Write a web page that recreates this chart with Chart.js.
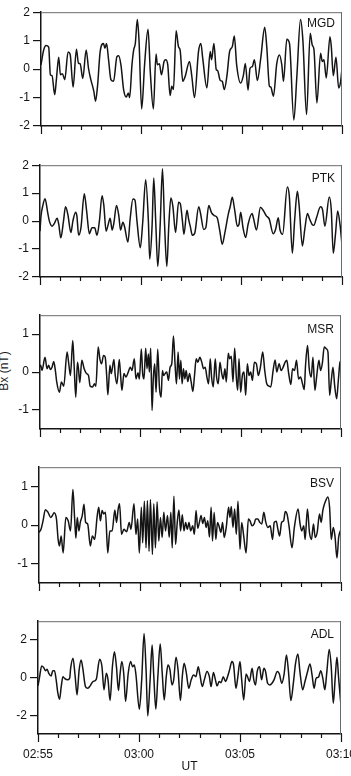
<!DOCTYPE html>
<html>
<head>
<meta charset="utf-8">
<script src="https://cdn.jsdelivr.net/npm/chart.js@4.4.1/dist/chart.umd.min.js"></script>
<style>
  html, body { margin: 0; padding: 0; background: #fff; }
  body { width: 351px; height: 776px; position: relative; overflow: hidden; }
  #ylab {
    position: absolute; left: 4px; top: 371px;
    transform: translate(-50%, -50%) rotate(-90deg);
    font: 12px "Liberation Sans", Arial, sans-serif; color: #1a1a1a; white-space: nowrap;
  }
</style>
</head>
<body>
<div id="ylab">Bx (nT)</div>
<script>
// time in seconds after 02:55 UT, Bx in nT
const mgdT = [0,8,15,23,28,33,41,46,53,58,64,71,81,87,96,106,112,117,125,135,142,149,158,163,169,177,187,191,196,202,209,217,227,232,239,247,255,261,265,272,277,282,288,293,301,310,320,327,336,344,348,354,360,368,373,379,386,391,396,404,411,416,424,431,444,451,459,471,478,484,496,506,510,517,524,528,536,542,548,556,564,572,578,585,597,605,611,619,625,632,638,647,657,669,675,683,687,695,705,713,720,725,735,743,756,765,776,783,794,805,811,816,825,836,841,846,853,864,868,874,882,890,896,900];
const mgdB = [0.15,0.67,0.83,0.77,-0.2,-0.23,-0.9,-0.37,0.42,-0.2,-0.16,-0.37,0.6,0.53,-0.63,0.7,0.2,0.19,-0.33,0.67,0.03,-0.37,-0.78,-1.13,-0.6,0.62,0.9,0.73,0.9,0.33,-0.37,-0.43,0.44,0.47,0.15,-0.72,-0.98,-0.84,-1.0,0.15,0.67,0.9,1.74,1.02,-1.4,0.2,1.4,-0.14,-1.4,0.53,0.15,0.19,-0.2,0.27,0.33,0.15,-0.93,-0.6,-0.72,1.35,0.79,0.67,-0.43,-0.26,0.27,-0.26,-1.0,0.62,0.9,0.33,-0.66,0.62,0.33,0.9,-0.02,-0.05,-0.4,-0.43,-0.72,-0.23,0.62,0.79,1.16,0.15,-0.49,-0.23,0.2,-0.74,0.03,0.09,0.33,-0.4,0.38,1.47,0.79,-0.6,-0.63,-0.95,0.2,0.5,0.15,-0.43,1.05,0.9,-1.79,-0.26,1.74,1.02,-1.6,1.26,0.85,0.7,-1.19,0.56,0.27,0.33,-0.31,1.14,0.79,-0.23,0.42,-0.66,-0.43,0.03];

const ptkT = [0,3,8,15,23,28,36,43,51,56,62,70,76,83,92,98,106,110,115,122,132,139,147,155,163,170,177,185,190,197,202,209,215,220,228,235,240,247,252,262,269,277,283,289,299,306,315,323,327,334,339,345,351,358,365,371,378,384,390,396,404,413,418,424,429,438,443,448,454,461,473,478,488,494,503,511,519,528,536,543,551,561,567,573,580,588,593,598,605,613,620,632,637,645,657,665,675,683,695,702,710,715,723,737,743,752,759,767,772,782,789,797,804,811,816,824,836,842,849,862,868,874,881,887,894,900];
const ptkB = [-0.36,0.18,0.53,0.8,0.3,0,-0.18,-0.08,0.1,-0.12,-0.6,0,0.51,0.24,-0.41,0,0.32,0.18,-0.5,-0.24,0.98,0.36,-0.45,-0.24,-0.24,-0.51,0,0.91,0.59,-0.36,-0.18,0.1,-0.32,-0.08,0.56,0.18,-0.32,-0.04,-0.2,-0.75,0.12,0.79,0.75,0,-0.95,-0.06,1.48,0,-1.36,-0.18,1.54,-0.06,-1.62,-0.18,1.87,-0.06,-1.62,-0.12,0.83,0.53,-0.41,0.67,0.63,0.06,-0.47,0.39,0.06,-0.2,-0.51,-0.44,0.51,0.3,-0.3,-0.24,0.56,0.3,0.2,0.12,-0.36,-0.83,-0.41,0.24,0.53,0.85,0.41,-0.18,-0.12,0.32,-0.24,-0.59,-0.12,0.27,0.06,-0.32,0.5,0.39,0.18,0.08,-0.45,-0.3,0.12,-0.3,-0.47,1.22,0.89,-1.15,0.06,1.07,0.59,-0.89,-0.3,0.27,0.06,-0.12,-0.15,0.12,0.51,0.41,-0.18,0.86,0.41,-1.15,-0.41,0.36,-0.12,-0.83];

const msrT = [0,2,6,15,21,26,31,36,41,46,50,58,64,71,81,86,91,98,102,107,112,115,119,125,132,139,145,150,157,163,167,174,179,184,190,195,199,203,209,213,221,225,230,237,241,245,251,257,263,270,275,282,287,293,297,303,307,311,316,320,324,327,331,335,339,343,347,352,357,362,366,370,374,379,384,389,394,399,404,408,413,417,421,425,429,433,437,442,447,452,457,462,467,472,478,484,489,494,499,504,509,513,518,524,528,533,538,543,548,553,557,563,567,572,577,582,587,591,595,600,605,610,615,620,625,630,635,641,647,653,659,666,672,678,685,690,697,703,708,715,721,727,733,738,743,750,755,761,767,773,779,785,790,794,800,805,811,816,822,827,834,839,844,850,857,861,866,871,876,881,887,892,897,900];
const msrB = [0.13,0.18,0.04,0.39,0.09,0.18,0.07,0.13,0.28,0.04,-0.26,-0.53,-0.26,-0.37,0.53,0.22,-0.09,0.83,0.18,-0.66,0.26,0.09,-0.28,0.31,0.09,-0.04,-0.09,-0.37,-0.39,-0.31,-0.37,0.66,0.35,0.22,0.44,0.39,-0.04,-0.6,0.18,-0.04,0.33,-0.09,-0.31,0.33,-0.09,-0.48,-0.04,-0.13,-0.02,0.13,0.04,0.35,-0.18,-0.02,-0.18,0.61,-0.04,-0.18,0.63,0.09,0.48,0,0.63,-1.01,-0.13,0.22,-0.53,0.6,-0.39,-0.66,0.04,-0.09,-0.04,0,-0.22,0.13,0.22,0.95,0.18,-0.31,0.53,-0.18,0.31,-0.31,0.09,-0.18,0.04,-0.25,-0.04,-0.26,-0.51,-0.09,0.35,0.26,0.39,0.25,0.09,0.13,-0.13,-0.31,0.35,-0.13,-0.39,0.35,-0.13,-0.31,0.26,-0.02,-0.18,0.09,-0.26,0.5,0.35,0.42,-0.26,0.63,-0.13,-0.48,0.35,-0.53,-0.09,0,-0.61,0.22,-0.09,0,-0.22,0.26,0.22,-0.09,0.13,0.53,0.04,-0.31,-0.37,-0.39,0.04,0.32,0,0.22,0.04,0.13,0.26,0.31,0,-0.33,0.09,0.04,0.31,-0.18,-0.13,-0.31,-0.46,0.18,0.7,0.09,-0.13,0.39,-0.48,-0.13,0.31,0.04,0.22,0.66,0.61,0.53,-0.61,-0.22,0.13,-0.35,-0.7,-0.22,0.26,0.3];

const bsvT = [0,6,12,19,27,35,40,45,52,57,61,66,72,80,87,94,101,106,110,114,119,123,129,134,139,145,153,159,166,173,178,183,188,193,198,205,211,218,226,231,236,240,246,253,261,269,274,283,289,294,299,305,309,314,319,323,328,332,338,342,347,352,357,362,367,372,377,383,388,393,397,402,407,412,417,422,427,432,437,442,447,452,458,463,468,473,478,483,488,493,498,503,508,513,517,522,527,532,537,542,547,552,558,565,569,573,578,583,588,593,599,604,610,617,624,629,635,641,646,652,658,664,670,676,682,689,696,701,707,712,717,723,729,734,739,745,754,761,772,778,783,789,793,800,806,812,818,823,829,836,841,846,853,861,866,871,877,882,888,893,898,900];
const bsvB = [-0.19,-0.11,0.11,0.4,0.33,0.2,0.25,0.32,0.16,-0.37,-0.54,-0.28,-0.72,0.2,0.11,-0.15,0.92,0.2,-0.34,0.2,-0.15,0.07,0.25,0.54,0.07,0.03,-0.54,-0.28,-0.37,0.2,0.46,0.11,0.38,0.29,0.33,-0.72,-0.15,-0.15,0.39,0.07,0.42,0.55,-0.24,-0.11,-0.17,0.07,-0.11,0.55,-0.24,0.16,-0.72,0.46,-0.46,0.62,-0.59,0.64,-0.68,0.66,-0.76,0.55,-0.59,0.6,-0.41,0.2,-0.32,0.33,-0.15,0.25,-0.32,0.33,-0.59,0.75,-0.5,0.07,0.39,-0.15,0.27,-0.15,0.07,-0.11,0.07,-0.15,-0.02,-0.24,0.38,-0.08,0.07,0.25,0.04,0.2,-0.06,0.11,-0.31,0.46,-0.41,0.33,-0.37,0.07,-0.04,-0.19,0.07,-0.32,-0.06,0.46,0.2,0.48,-0.06,0.42,-0.24,0.62,-0.63,0.07,-0.28,-0.72,0.16,0.11,-0.02,0.03,0.16,0.16,0.07,0.03,0.33,0.07,-0.06,-0.02,-0.37,0.07,0.1,-0.11,-0.28,0.07,0.11,0.35,0.29,-0.02,-0.59,-0.06,0.42,0.03,-0.15,-0.02,-0.37,0.42,-0.19,-0.37,0.03,-0.32,-0.19,0.29,0.07,0.39,0.6,0.73,0.46,-0.37,-0.06,-0.28,-0.85,-0.32,-0.15,-0.12];

const adlT = [0,4,11,17,22,27,32,39,44,49,54,59,64,69,74,79,87,94,97,104,110,116,122,128,133,141,148,155,163,173,183,190,196,203,208,214,221,227,233,239,244,249,255,260,268,275,281,286,291,301,308,315,321,326,333,339,344,350,356,363,369,375,381,386,392,398,403,410,416,423,429,434,440,448,455,462,469,476,481,488,494,502,509,514,521,527,532,538,544,550,557,563,569,576,581,588,593,600,605,611,618,623,628,636,641,646,651,658,664,671,676,682,689,695,701,711,717,724,731,738,744,751,759,765,772,778,786,793,800,808,814,820,826,833,840,846,852,858,865,871,877,883,888,893,900];
const adlB = [-0.44,-0.04,0.62,0.53,0.37,0.44,0.23,0.09,0.37,0.37,-0.12,-0.83,-1.15,-0.48,0.05,-0.04,-0.12,-0.04,0.5,1.03,0.14,-0.92,0.37,0.94,0.5,-0.48,-0.57,-0.44,-0.21,-0.09,0.97,0.58,-0.65,0.23,-0.12,-1.22,0.58,1.38,0.58,-0.69,0.23,0.85,0.14,-1.27,0.23,0.85,0.58,0.67,0.14,-1.68,-0.12,2.35,0.41,-2.04,-0.12,1.73,0.05,-1.68,0.05,1.79,0.23,-1.19,0.05,0.67,0.41,-0.39,-0.12,1.08,0.41,-1.22,0.14,0.76,0.32,-0.57,-0.12,0.14,0.05,0.58,0.14,-0.48,-0.12,0.32,0.05,-0.48,0.27,-0.12,-0.44,-0.21,-0.27,0.05,-0.21,0.05,0.41,0.85,0.67,-0.57,-0.04,0.85,-0.12,-1.19,0.19,0.02,-0.21,0.5,-0.12,-0.39,0.32,0.58,-0.12,0.5,0.32,-0.3,-0.39,-0.3,-0.12,0.32,0.19,-0.3,0.19,1.2,0.32,-1.22,-0.21,0.76,1.26,0.32,-0.65,-0.21,0.27,0.73,0.14,-0.57,-0.04,0.02,0.37,-0.04,-0.65,0.32,1.5,0.58,-1.36,0.05,1.08,-0.04,-1.5];

const ticks2 = [-2, -1, 0, 1, 2];
const ticks1 = [-1, 0, 1];
const ticksAdl = [-2, 0, 2];
const minuteTicks = [0,60,120,180,240,300,360,420,480,540,600,660,720,780,840,900];
const timeAt = [0, 300, 600, 900];
const timeLabels = ["02:55", "03:00", "03:05", "03:10"];

const FONT = '"Liberation Sans", Arial, Helvetica, sans-serif';
const INK = "#141414";

const panels = [
  { station: "MGD", t: mgdT, b: mgdB, min: -2, max: 2, ticks: ticks2, left: 41, right: 342, top: 12, bottom: 126, dy: 5 },
  { station: "PTK", t: ptkT, b: ptkB, min: -2, max: 2, ticks: ticks2, left: 40, right: 342, top: 165, bottom: 277, dy: 7 },
  { station: "MSR", t: msrT, b: msrB, min: -1.5, max: 1.5, ticks: ticks1, left: 40, right: 341, top: 315, bottom: 429, dy: 8 },
  { station: "BSV", t: bsvT, b: bsvB, min: -1.5, max: 1.5, ticks: ticks1, left: 39, right: 341, top: 467, bottom: 583, dy: 10 },
  { station: "ADL", t: adlT, b: adlB, min: -3, max: 3, ticks: ticksAdl, left: 38, right: 341, top: 621, bottom: 734, dy: 7, showTime: true },
];

const frame = {
  id: "frame",
  afterDraw(chart, args, opts) {
    const { ctx, chartArea: a, scales: { x } } = chart;
    ctx.save();
    ctx.strokeStyle = "#6a6a6a";
    ctx.lineWidth = 1;
    ctx.beginPath();
    ctx.moveTo(a.left, a.top + 0.5);
    ctx.lineTo(a.right, a.top + 0.5);
    ctx.moveTo(a.right - 0.5, a.top);
    ctx.lineTo(a.right - 0.5, a.bottom);
    ctx.stroke();
    ctx.strokeStyle = INK;
    ctx.lineWidth = 1.2;
    ctx.beginPath();
    minuteTicks.forEach((v) => {
      const px = Math.round(x.getPixelForValue(v)) + 0.5;
      ctx.moveTo(px, a.bottom);
      ctx.lineTo(px, a.bottom + (v % 300 === 0 ? 8 : 4));
    });
    ctx.stroke();
    ctx.fillStyle = INK;
    ctx.font = "12px " + FONT;
    ctx.textAlign = "right";
    ctx.textBaseline = "top";
    ctx.fillText(opts.station, a.right - 7, a.top + opts.dy);
    ctx.restore();
  },
};

function makePanel(p) {
  const padTop = 10;
  const extra = p.showTime ? 42 : 14;
  const w = p.showTime ? 380 : 351;
  const h = p.bottom - p.top + padTop + extra;
  const cv = document.createElement("canvas");
  cv.width = w;
  cv.height = h;
  cv.style.cssText = `position:absolute;left:0;top:${p.top - padTop}px;width:${w}px;height:${h}px`;
  document.body.appendChild(cv);

  new Chart(cv, {
    type: "line",
    data: {
      datasets: [{
        data: p.t.map((t, i) => ({ x: t, y: p.b[i] })),
        borderColor: INK,
        borderWidth: 1.5,
        pointRadius: 0,
        cubicInterpolationMode: "monotone",
        fill: false,
      }],
    },
    options: {
      responsive: false,
      animation: false,
      events: [],
      layout: { padding: { top: padTop, right: w - p.right, bottom: 0, left: 0 } },
      plugins: {
        legend: { display: false },
        tooltip: { enabled: false },
        frame: { station: p.station, dy: p.dy },
      },
      scales: {
        x: {
          type: "linear",
          min: 0,
          max: 900,
          afterBuildTicks: (s) => { s.ticks = minuteTicks.map((v) => ({ value: v })); },
          afterFit: (s) => { s.height = extra; },
          grid: { display: false, drawTicks: false },
          border: { display: true, color: INK, width: 1.5 },
          ticks: {
            display: !!p.showTime,
            autoSkip: false,
            maxRotation: 0,
            padding: 13,
            color: INK,
            font: { size: 12, family: FONT },
            callback: (v) => {
              const i = timeAt.indexOf(v);
              return i < 0 ? "" : timeLabels[i];
            },
          },
          title: {
            display: !!p.showTime,
            text: "UT",
            color: INK,
            font: { size: 12, family: FONT },
            padding: { top: 0, bottom: 2 },
          },
        },
        y: {
          min: p.min,
          max: p.max,
          afterBuildTicks: (s) => { s.ticks = p.ticks.map((v) => ({ value: v })); },
          afterFit: (s) => { s.width = p.left; },
          grid: { drawOnChartArea: false, drawTicks: true, tickLength: 8, color: INK, lineWidth: 1.2 },
          border: { display: true, color: INK, width: 1.5 },
          ticks: {
            padding: 3,
            color: INK,
            font: { size: 12, family: FONT },
            callback: (v) => String(v),
          },
        },
      },
    },
    plugins: [frame],
  });
}

panels.forEach(makePanel);
</script>
</body>
</html>
